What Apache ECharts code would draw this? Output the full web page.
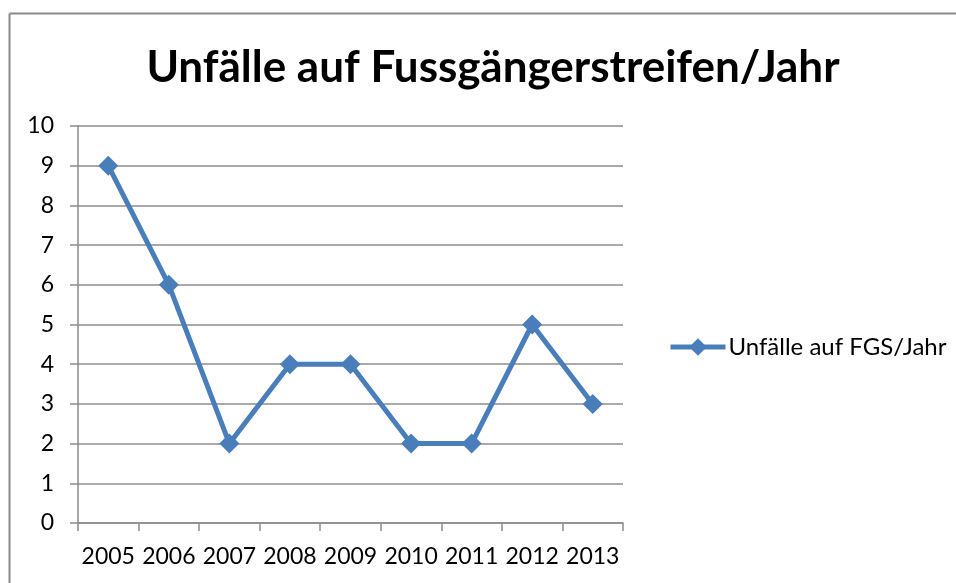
<!DOCTYPE html>
<html>
<head>
<meta charset="utf-8">
<script src="https://cdn.jsdelivr.net/npm/echarts@6/dist/echarts.min.js"></script>
<style>
  html, body { margin: 0; padding: 0; background: #ffffff; }
  #chart { width: 956px; height: 583px; }
</style>
</head>
<body>
<div id="chart"></div>
<script>
const years = ['2005', '2006', '2007', '2008', '2009', '2010', '2011', '2012', '2013'];
const unfaelle = [9, 6, 2, 4, 4, 2, 2, 5, 3];
const seriesName = 'Unfälle auf FGS/Jahr';

const chart = echarts.init(document.getElementById('chart'));
const font = 'Lato, "Open Sans", sans-serif';
const grey = '#8c8c8c';
const blue = '#4a7ebb';

chart.setOption({
  backgroundColor: '#ffffff',
  animation: false,
  textStyle: { fontFamily: font },
  title: {
    text: 'Unfälle auf Fussgängerstreifen/Jahr',
    left: 488,
    textAlign: 'center',
    top: 41,
    textStyle: { fontFamily: font, fontSize: 44, fontWeight: 'bold', color: '#000000' }
  },
  // rahmen oben und links
  graphic: [
    { type: 'line', shape: { x1: 9.5, y1: 13.5, x2: 956, y2: 13.5 }, style: { stroke: '#8a8a8a', lineWidth: 2 } },
    { type: 'line', shape: { x1: 9.5, y1: 13.5, x2: 9.5, y2: 583 }, style: { stroke: '#8a8a8a', lineWidth: 2 } }
  ],
  legend: {
    left: 663,
    top: 330,
    itemWidth: 55,
    itemHeight: 22,
    itemGap: 4,
    lineStyle: { width: 5 },
    textStyle: { fontFamily: font, fontSize: 24, color: '#000000', padding: [0, 0, 0, -2] },
    data: [seriesName]
  },
  grid: { left: 78, right: 333, top: 126, bottom: 60 },
  xAxis: {
    type: 'category',
    data: years,
    boundaryGap: true,
    axisLine: { lineStyle: { color: grey, width: 1.5 } },
    axisTick: { show: true, length: 8, alignWithLabel: false, lineStyle: { color: grey, width: 1.5 } },
    axisLabel: { fontFamily: font, fontSize: 23, color: '#000000', margin: 22, interval: 0 }
  },
  yAxis: {
    type: 'value',
    min: 0,
    max: 10,
    interval: 1,
    axisLine: { show: true, lineStyle: { color: grey, width: 1.5 } },
    axisTick: { show: true, length: 8, lineStyle: { color: grey, width: 1.5 } },
    axisLabel: { fontFamily: font, fontSize: 23, color: '#000000', margin: 24 },
    splitLine: { lineStyle: { color: grey, width: 1.5 } }
  },
  series: [
    {
      name: seriesName,
      type: 'line',
      data: unfaelle,
      symbol: 'diamond',
      symbolSize: [20, 20],
      lineStyle: { color: blue, width: 5 },
      itemStyle: { color: blue }
    }
  ]
});
</script>
</body>
</html>
